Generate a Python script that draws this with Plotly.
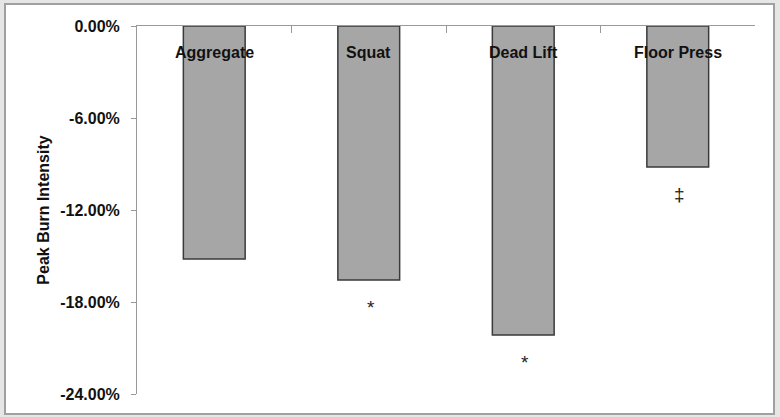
import plotly.graph_objects as go

categories = ["Aggregate", "Squat", "Dead Lift", "Floor Press"]
values = [-0.152, -0.1657, -0.2016, -0.092]
marks = ["", "*", "*", "\u2021"]

y_ticks = [0, -0.06, -0.12, -0.18, -0.24]
y_tick_text = ["0.00%", "-6.00%", "-12.00%", "-18.00%", "-24.00%"]

W, H = 780, 417
L, R, T, B = 137, 25, 26, 23

fig = go.Figure()
fig.add_trace(go.Bar(
    x=categories, y=values, width=0.4,
    marker=dict(color="#a6a6a6", line=dict(color="#3a3a3a", width=1.5)),
    showlegend=False,
))

# category names sit just under the zero line, like Excel
for cat in categories:
    fig.add_annotation(x=cat, y=0, text="<b>%s</b>" % cat, showarrow=False,
                       yanchor="middle", yshift=-26,
                       font=dict(size=16, color="#111111"))

for cat, val, m in zip(categories, values, marks):
    if m:
        fig.add_annotation(x=cat, y=val, text=m, showarrow=False, yshift=-27,
                           xshift=2, font=dict(size=19, color="#222222"))

# chart frame
pw, ph = W - L - R, H - T - B
fig.add_shape(type="rect", xref="paper", yref="paper", layer="below",
              x0=(5 - L) / pw, x1=(774 - L) / pw,
              y0=-(414 - H + B) / ph, y1=1 + (T - 4) / ph,
              line=dict(color="#a0a0a0", width=2), fillcolor="white")

fig.update_layout(
    width=W, height=H,
    margin=dict(l=L, r=R, t=T, b=B),
    paper_bgcolor="#e6e6e6", plot_bgcolor="white",
    font=dict(family="Liberation Sans", size=14, color="#111111"),
    bargap=0.6,
)
fig.update_xaxes(
    side="top", ticks="inside", ticklen=7, showticklabels=False,
    tickson="boundaries", tickcolor="#999999",
    showline=True, linecolor="#999999", linewidth=1,
)
fig.update_yaxes(
    range=[-0.24, 0], tickvals=y_ticks, ticktext=y_tick_text,
    ticks="outside", ticklen=5, tickcolor="#999999",
    showline=True, linecolor="#999999", linewidth=1,
    showgrid=False, zeroline=False, ticklabelstandoff=8,
    tickfont=dict(size=16, weight="bold"),
    title=dict(text="Peak Burn Intensity", standoff=6,
               font=dict(size=16, weight="bold")),
)

fig.write_html("out.html", config={"displayModeBar": False},
               post_script="document.body.style.margin='0';")
